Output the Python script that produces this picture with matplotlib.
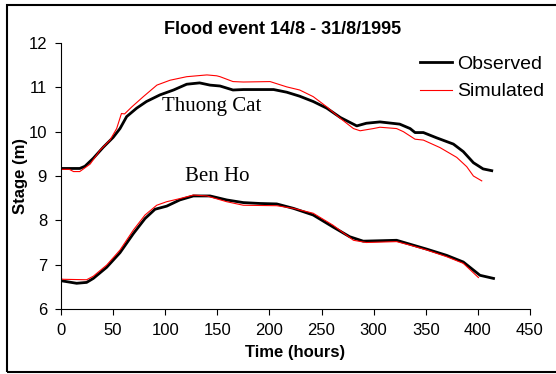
import matplotlib.pyplot as plt
from matplotlib.patches import Rectangle

# Thuong Cat station
tc_obs_t = [0, 18, 23, 31, 40.6, 50, 56.6, 63, 72.6, 82, 95, 108, 120.6, 133, 143, 152.6, 165, 175,
            204, 216.6, 229, 242, 255, 268, 283.8, 293, 306, 325, 335, 339.7, 347.7, 360.5, 376.5,
            386, 395.7, 405, 413.3]
tc_obs = [9.17, 9.17, 9.22, 9.40, 9.65, 9.87, 10.07, 10.34, 10.53, 10.68, 10.83, 10.94, 11.07, 11.10,
          11.05, 11.03, 10.94, 10.95, 10.95, 10.89, 10.80, 10.68, 10.53, 10.32, 10.13, 10.19, 10.22,
          10.17, 10.07, 9.98, 9.98, 9.86, 9.72, 9.55, 9.30, 9.16, 9.12]
tc_sim_t = [0, 8, 12, 18, 28, 37.4, 47, 53.4, 58, 61, 68, 79, 92, 104.6, 120.6, 140, 149.4, 152.6,
            165, 175, 200.6, 216.6, 229, 242, 255, 268, 280.6, 287, 299.7, 306, 322, 328.5, 339.7,
            347.7, 363.7, 379.7, 389.3, 395.7, 403.7]
tc_sim = [9.15, 9.15, 9.10, 9.10, 9.27, 9.58, 9.81, 10.07, 10.41, 10.40, 10.56, 10.79, 11.05, 11.16,
          11.24, 11.28, 11.26, 11.24, 11.13, 11.12, 11.13, 11.01, 10.94, 10.79, 10.56, 10.30, 10.07,
          10.02, 10.07, 10.10, 10.07, 10.00, 9.83, 9.81, 9.64, 9.42, 9.21, 9.00, 8.89]

# Ben Ho station
bh_obs_t = [0, 2, 15, 24.6, 31, 43.8, 56.6, 69.4, 80.6, 90.2, 101.4, 114, 127, 143, 159, 175, 191,
            207, 223, 242, 261, 277, 290, 322, 335, 351, 370, 386, 402, 415]
bh_obs = [6.64, 6.63, 6.58, 6.60, 6.69, 6.94, 7.27, 7.70, 8.04, 8.25, 8.32, 8.46, 8.55, 8.55, 8.46,
          8.40, 8.38, 8.37, 8.27, 8.12, 7.85, 7.63, 7.53, 7.55, 7.46, 7.35, 7.21, 7.06, 6.76, 6.69]
bh_sim_t = [0, 2, 24.6, 31, 43.8, 56.6, 69.4, 80.6, 91.8, 101.4, 114, 127, 140, 159, 175, 207, 223,
            242, 261, 280.6, 293, 322, 335, 351, 370, 386, 400.5]
bh_sim = [6.68, 6.67, 6.66, 6.74, 6.99, 7.33, 7.78, 8.12, 8.34, 8.42, 8.49, 8.57, 8.55, 8.42, 8.34,
          8.33, 8.27, 8.16, 7.89, 7.55, 7.50, 7.52, 7.44, 7.33, 7.18, 7.03, 6.71]

plt.rcParams['font.family'] = ['Liberation Sans', 'DejaVu Sans']

fig = plt.figure(figsize=(5.56, 3.74), dpi=100)
ax = fig.add_axes([61/556, 1-309/374, 469/556, 266/374])

ax.plot(tc_obs_t, tc_obs, color='black', lw=2.0, label='Observed')
ax.plot(tc_sim_t, tc_sim, color='red', lw=0.8, label='Simulated')
ax.plot(bh_obs_t, bh_obs, color='black', lw=2.0)
ax.plot(bh_sim_t, bh_sim, color='red', lw=0.8)

ax.set_xlim(0, 450)
ax.set_ylim(6, 12)
ax.set_xticks(range(0, 451, 50))
ax.set_yticks(range(6, 13))
ax.tick_params(direction='out', length=4, labelsize=12, pad=6)
for s in ['top', 'right']:
    ax.spines[s].set_visible(False)

ax.text(145, 10.56, 'Thuong Cat', family='Liberation Serif', fontsize=15, ha='center', va='center')
ax.text(150, 8.98, 'Ben Ho', family='Liberation Serif', fontsize=15, ha='center', va='center')

ax.set_xlabel('Time (hours)', fontsize=12, fontweight='bold')
ax.set_ylabel('Stage (m)', fontsize=12, fontweight='bold')
ax.xaxis.set_label_coords(0.5, -(345 - 309) / 266)
ax.yaxis.set_label_coords((28 - 61) / 469, 0.5)
fig.text(283/556, 1-30/374, 'Flood event 14/8 - 31/8/1995', fontsize=13, fontweight='bold',
         ha='center', va='center')

ax.legend(loc='upper right', bbox_to_anchor=(562/556, 1-38/374), bbox_transform=fig.transFigure,
          frameon=False, fontsize=14, handlelength=1.6, handletextpad=0.3, labelspacing=0.5)

fig.patches.append(Rectangle((6.5/556, 1-371.5/374), 560/556, 367/374, transform=fig.transFigure,
                             fill=False, ec='black', lw=1.5))

fig.savefig('out.png', dpi=100)
